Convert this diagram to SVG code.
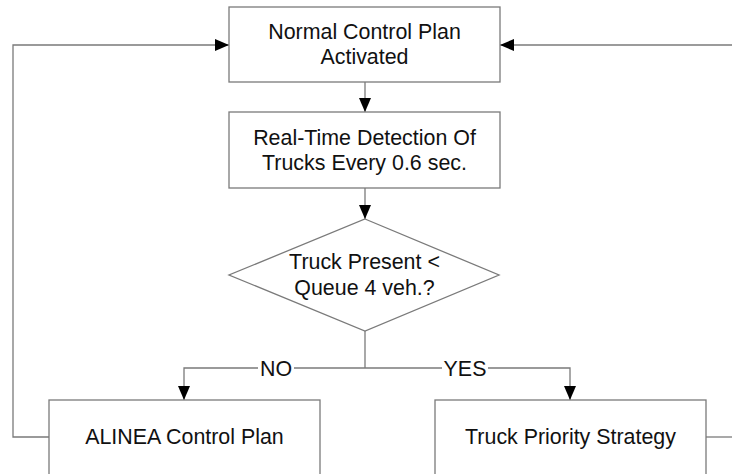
<svg xmlns="http://www.w3.org/2000/svg" width="732" height="474" viewBox="0 0 732 474">
<style>
.box{fill:#fff;stroke:#7a7a7a;stroke-width:1.3}
.ln{fill:none;stroke:#7a7a7a;stroke-width:1.3}
.t{font-family:"Liberation Sans",Arial,sans-serif;font-size:21.4px;fill:#111;text-anchor:middle}
</style>
<defs>
<marker id="ah" markerUnits="userSpaceOnUse" markerWidth="14" markerHeight="13" refX="14" refY="6.5" orient="auto">
<path d="M0,0.5 L14,6.5 L0,12.5 z" fill="#000"/>
</marker>
</defs>
<rect width="732" height="474" fill="#fff"/>
<g id="connectors">
<path class="ln" d="M365,82 V112" marker-end="url(#ah)"/>
<path class="ln" d="M365,188 V219" marker-end="url(#ah)"/>
<path class="ln" d="M365,331 V368"/>
<path class="ln" d="M258,368 H184 V400" marker-end="url(#ah)"/>
<path class="ln" d="M294,368 H442"/>
<path class="ln" d="M488,368 H570 V400" marker-end="url(#ah)"/>
<path class="ln" d="M49,437 H13 V45 H229" marker-end="url(#ah)"/>
<path class="ln" d="M732,45 H500" marker-end="url(#ah)"/>
<path class="ln" d="M706,437 H732"/>
<text class="t" x="276" y="375.5">NO</text>
<text class="t" x="465" y="375.5">YES</text>
</g>
<g id="normal">
<rect class="box" x="229" y="7" width="271" height="75"/>
<text class="t" x="364.5" y="39">Normal Control Plan</text>
<text class="t" x="364.5" y="64">Activated</text>
</g>
<g id="detection">
<rect class="box" x="229" y="112" width="271" height="76"/>
<text class="t" x="364.5" y="145">Real-Time Detection Of</text>
<text class="t" x="364.5" y="170">Trucks Every 0.6 sec.</text>
</g>
<g id="decision">
<polygon class="box" points="365,219 499,275 365,331 229,275"/>
<text class="t" x="364.5" y="269">Truck Present &lt;</text>
<text class="t" x="364.5" y="295">Queue 4 veh.?</text>
</g>
<g id="alinea">
<rect class="box" x="49" y="400" width="271" height="100"/>
<text class="t" x="184.5" y="444">ALINEA Control Plan</text>
</g>
<g id="priority">
<rect class="box" x="435" y="400" width="271" height="100"/>
<text class="t" x="570.5" y="444">Truck Priority Strategy</text>
</g>
</svg>
